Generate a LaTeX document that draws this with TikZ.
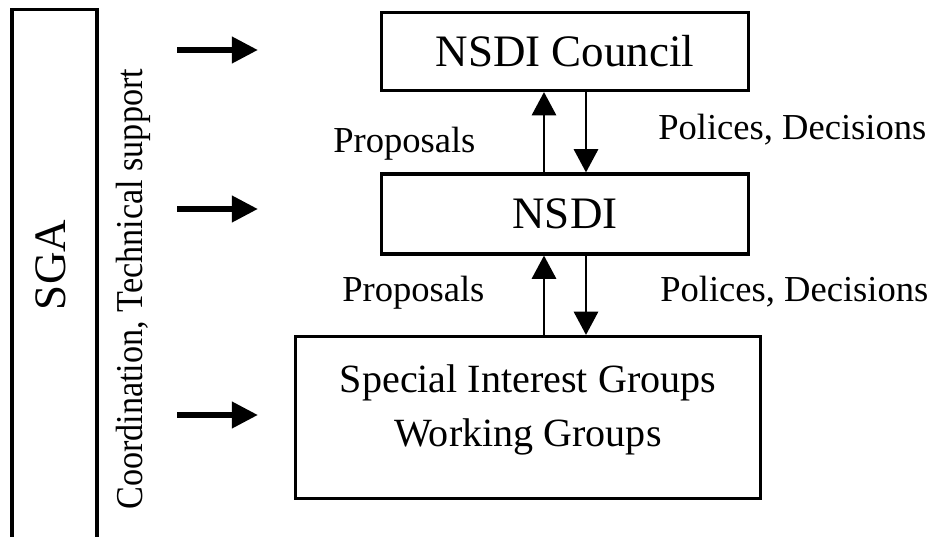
\documentclass[tikz,border=0pt]{standalone}
\usepackage{fontspec}
\setmainfont{Liberation Serif}
\usetikzlibrary{arrows.meta, positioning}

\begin{document}
\begin{tikzpicture}[x=0.025cm,y=-0.025cm,
	box/.style={draw,line width=2.2pt,inner sep=0pt},
	big/.style={font=\fontsize{32}{38}\selectfont},
	lbl/.style={font=\fontsize{26}{30}\selectfont,anchor=base west,inner sep=0pt},
	feed/.style={line width=4.3pt,-{Triangle[length=0.65cm,width=0.63cm]}},
	flow/.style={line width=2pt,-{Triangle[length=0.58cm,width=0.6cm]}}]
			\clip (0,0) rectangle (928,537);
			% SGA column, runs off the bottom
			\node[box,minimum width=2.125cm,minimum height=13.75cm] (sga) at (54.5,285) {};
			\node[big,rotate=90,anchor=base,inner sep=0pt] (sgatxt) at (65,265) {SGA};
			\node[lbl,rotate=90,font=\fontsize{27}{30}\selectfont] (coord) at (142,510)
				{\scalebox{0.9}[1]{Coordination, Technical support}};
			% feed arrows
			\foreach \y [count=\i] in {50,209,415} {
				\coordinate (from\i) at (177,\y);
				\coordinate (to\i) at (258,\y);
				\draw[feed] (from\i) -- (to\i);
			}
			% boxes
			\node[box,big,minimum width=9.175cm,minimum height=1.95cm] (council) at (565,51.5) {NSDI Council};
			\node[box,big,minimum width=9.175cm,minimum height=2cm] (nsdi) at (565,214) {NSDI};
			\node[box,font=\fontsize{28.5}{38}\selectfont,align=center,minimum width=11.6cm,
				minimum height=4.05cm,text depth=0.6cm] (sig) at (528,417.5)
				{Special Interest Groups\\Working Groups};
			% up and down links
			\coordinate (upx) at (544,0);
			\coordinate (dnx) at (586,0);
			\draw[flow] (nsdi.north -| upx) -- (council.south -| upx);
			\draw[flow] (council.south -| dnx) -- (nsdi.north -| dnx);
			\draw[flow] (sig.north -| upx) -- (nsdi.south -| upx);
			\draw[flow] (nsdi.south -| dnx) -- (sig.north -| dnx);
			% labels
			\node[lbl] (prop1) at (333,153) {Proposals};
			\node[lbl] (pol1) at (658,140) {Polices, Decisions};
			\node[lbl] (prop2) at (342,302) {Proposals};
			\node[lbl] (pol2) at (660,302) {Polices, Decisions};
		\end{tikzpicture}
\end{document}
